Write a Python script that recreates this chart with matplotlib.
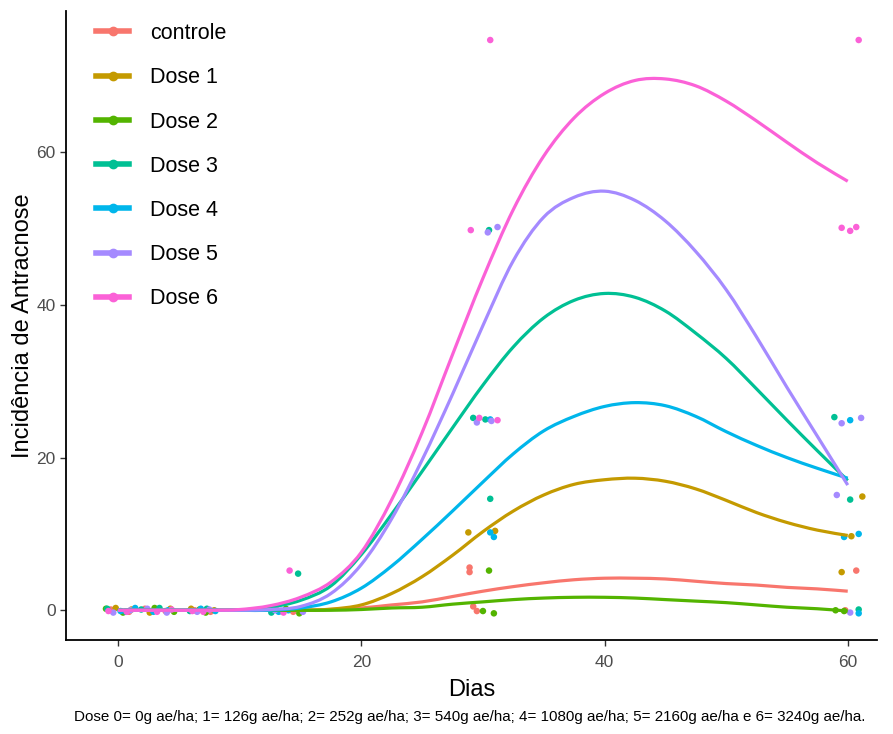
import matplotlib
matplotlib.use("Agg")
import matplotlib.pyplot as plt
from matplotlib.lines import Line2D
from matplotlib.path import Path
from matplotlib.patches import PathPatch

plt.rcParams['font.family'] = ['Liberation Sans', 'DejaVu Sans']

# categorias e cores (paleta padrao do ggplot)
grupos = ['controle', 'Dose 1', 'Dose 2', 'Dose 3', 'Dose 4', 'Dose 5', 'Dose 6']
cores = ['#F8766D', '#C49A00', '#53B400', '#00C094', '#00B6EB', '#A58AFF', '#FB61D7']

# curvas suavizadas (a cada 2.5 dias)
curva_dias = [0, 2.5, 5, 7.5, 10, 12.5, 15, 17.5, 20, 22.5, 25, 27.5, 30,
              32.5, 35, 37.5, 40, 42.5, 45, 47.5, 50, 52.5, 55, 57.5, 60]
curva_controle = [0, 0, 0, 0, 0, 0, 0, 0.1, 0.3, 0.7, 1.1, 1.8, 2.5,
                  3.1, 3.6, 4.0, 4.2, 4.2, 4.1, 3.8, 3.5, 3.3, 3.0, 2.8, 2.5]
curva_dose1 = [0, 0, 0, 0, 0, 0, 0, 0.15, 0.7, 2.2, 4.4, 7.2, 10.3,
               13.0, 15.1, 16.5, 17.1, 17.3, 16.9, 15.9, 14.4, 12.8, 11.5, 10.5, 9.8]
curva_dose2 = [0, 0, 0, 0, 0, 0, 0, 0, 0.1, 0.3, 0.4, 0.8, 1.1,
               1.4, 1.6, 1.7, 1.7, 1.6, 1.4, 1.2, 1.0, 0.7, 0.4, 0.2, -0.1]
curva_dose3 = [0, 0, 0, 0, 0.05, 0.4, 1.3, 3.2, 7.3, 12.6, 18.2, 23.9, 29.5,
               34.5, 38.3, 40.6, 41.5, 41.0, 39.2, 36.3, 33.0, 29.0, 24.9, 20.9, 17.0]
curva_dose4 = [0, 0, 0, 0, 0, 0, 0.3, 1.1, 2.9, 5.8, 9.3, 13.0, 16.8,
               20.5, 23.5, 25.4, 26.7, 27.2, 26.8, 25.4, 23.4, 21.6, 20.0, 18.6, 17.3]
curva_dose5 = [0, 0, 0, 0, 0, 0.1, 0.5, 2.2, 6.0, 12.0, 19.7, 28.3, 37.3,
               45.8, 51.5, 54.1, 54.9, 53.7, 51.0, 47.0, 42.0, 35.8, 29.2, 22.8, 16.4]
curva_dose6 = [0, 0, 0, 0, 0.1, 0.6, 1.7, 3.7, 7.6, 14.5, 23.3, 33.5, 43.5,
               52.5, 59.5, 64.5, 67.7, 69.4, 69.6, 68.7, 66.7, 64.1, 61.3, 58.6, 56.2]

controle_dias = [-0.6, 0.9, 2.2, 3.9, 6.3, 7.6, 13.0, 14.4, 28.9, 28.9, 29.2, 29.5, 60.7, 59.8]
controle_inc = [0.1, -0.2, 0.2, -0.1, 0.0, -0.2, 0.1, -0.2, 5.0, 5.6, 0.5, -0.1, 5.2, 0.0]
dose1_dias = [-0.2, 1.1, 2.6, 4.3, 6.0, 7.9, 13.4, 15.0, 28.8, 31.0, 61.2, 60.3, 59.5]
dose1_inc = [0.3, 0.1, -0.3, 0.2, 0.2, 0.0, -0.1, 0.1, 10.2, 10.4, 14.9, 9.7, 5.0]
dose2_dias = [0.4, -1.0, 3.0, 4.6, 7.2, 6.7, 13.8, 14.9, 30.5, 30.0, 30.9, 59.0, 59.7]
dose2_inc = [-0.3, 0.2, 0.3, -0.2, -0.3, 0.1, 0.2, -0.4, 5.2, -0.1, -0.4, 0.0, -0.1]
dose3_dias = [-0.9, 0.6, 1.9, 3.4, 5.9, 7.3, 12.6, 14.8, 30.5, 29.2, 30.6, 30.2, 58.9, 60.2, 60.9]
dose3_inc = [0.2, -0.2, 0.1, 0.3, -0.1, 0.2, -0.3, 4.8, 49.8, 25.2, 14.6, 25.0, 25.3, 14.5, 0.1]
dose4_dias = [0.2, 1.4, 2.9, 4.1, 6.8, 8.0, 13.2, 14.0, 30.6, 30.6, 30.9, 60.2, 59.7, 60.9, 60.9]
dose4_inc = [-0.1, 0.3, -0.2, 0.0, 0.2, -0.1, -0.2, 0.0, 25.0, 10.2, 9.6, 24.9, 9.6, 10.0, -0.4]
dose5_dias = [-0.4, 1.0, 2.4, 4.0, 6.5, 7.5, 12.9, 15.2, 30.4, 31.2, 29.5, 30.7, 59.5, 61.1, 59.1, 60.2]
dose5_inc = [-0.3, 0.0, 0.2, -0.3, -0.2, 0.1, 0.0, -0.2, 49.5, 50.2, 24.6, 24.8, 24.5, 25.2, 15.1, -0.3]
dose6_dias = [0.7, -0.8, 3.2, 4.4, 6.1, 7.0, 13.6, 14.1, 30.6, 29.0, 29.7, 31.2, 60.9, 59.5, 60.2, 60.7]
dose6_inc = [-0.2, -0.1, -0.2, 0.1, -0.1, -0.2, -0.3, 5.2, 74.7, 49.8, 25.2, 24.9, 74.7, 50.1, 49.7, 50.2]

curvas = [curva_controle, curva_dose1, curva_dose2, curva_dose3,
          curva_dose4, curva_dose5, curva_dose6]
pontos = [(controle_dias, controle_inc), (dose1_dias, dose1_inc), (dose2_dias, dose2_inc),
          (dose3_dias, dose3_inc), (dose4_dias, dose4_inc), (dose5_dias, dose5_inc),
          (dose6_dias, dose6_inc)]

legenda_nota = ('Dose 0= 0g ae/ha; 1= 126g ae/ha; 2= 252g ae/ha; 3= 540g ae/ha; '
                '4= 1080g ae/ha; 5= 2160g ae/ha e 6= 3240g ae/ha.')


def caminho_suave(xs, ys):
    # bezier (catmull-rom) passando pelos pontos lidos, so pra desenhar a linha lisa
    n = len(xs)
    verts = [(xs[0], ys[0])]
    codes = [Path.MOVETO]
    for i in range(n - 1):
        a, b = max(i - 1, 0), min(i + 2, n - 1)
        c1 = (xs[i] + (xs[i + 1] - xs[a]) / 6, ys[i] + (ys[i + 1] - ys[a]) / 6)
        c2 = (xs[i + 1] - (xs[b] - xs[i]) / 6, ys[i + 1] - (ys[b] - ys[i]) / 6)
        verts += [c1, c2, (xs[i + 1], ys[i + 1])]
        codes += [Path.CURVE4] * 3
    return Path(verts, codes)


fig = plt.figure(figsize=(8.93, 7.34), dpi=100)
ax = fig.add_axes([0.074, 0.128, 0.908, 0.857])

for (px, py), cor in zip(pontos, cores):
    ax.scatter(px, py, s=22, color=cor, edgecolors='none', zorder=2)

for curva, cor in zip(curvas, cores):
    ax.add_patch(PathPatch(caminho_suave(curva_dias, curva), facecolor='none',
                           edgecolor=cor, lw=2.3, zorder=3, capstyle='butt'))

ax.set_xlim(-4.28, 62.4)
ax.set_ylim(-3.9, 78.5)
ax.set_xticks([0, 20, 40, 60])
ax.set_yticks([0, 20, 40, 60])
for s in ['top', 'right']:
    ax.spines[s].set_visible(False)
for s in ['left', 'bottom']:
    ax.spines[s].set_linewidth(1.3)
ax.tick_params(colors='#333333', labelcolor='#4D4D4D', labelsize=12.5, length=4, width=1)
ax.tick_params(axis='x', pad=7)
ax.set_xlabel('Dias', fontsize=17, labelpad=6)
ax.set_ylabel('Incidência de Antracnose', fontsize=17, labelpad=2)

handles = [Line2D([], [], color=c, lw=4, marker='o', markersize=6) for c in cores]
fig.legend(handles, grupos, loc='upper left', bbox_to_anchor=(96 / 893, 1 - 23 / 734),
           frameon=False, fontsize=15.5, labelspacing=1.08, handlelength=1.55,
           handletextpad=0.95, borderpad=0, borderaxespad=0)

fig.text(0.526, 0.014, legenda_nota, ha='center', va='bottom', fontsize=10.9)

fig.savefig('out.png', dpi=100)
